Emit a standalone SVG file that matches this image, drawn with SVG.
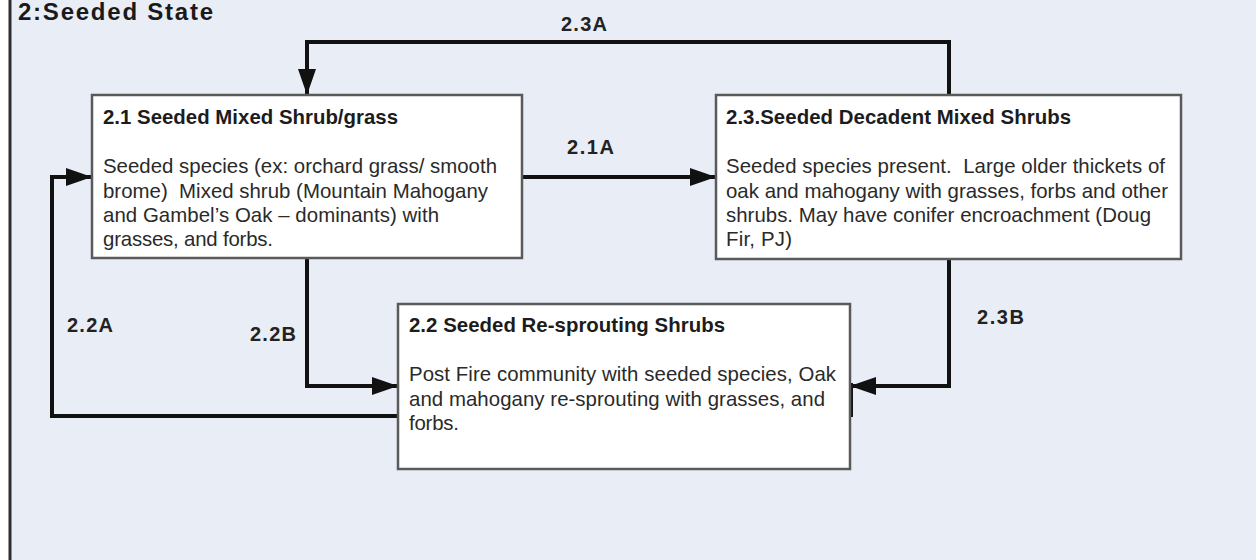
<svg xmlns="http://www.w3.org/2000/svg" width="1256" height="560" viewBox="0 0 1256 560">
  <style>
    .box { fill: #ffffff; stroke: #5a5a5a; stroke-width: 2.5; }
    .hdr { font-family: "Liberation Sans", Arial, sans-serif; font-weight: bold; font-size: 20.4px; fill: #1c1c1c; }
    .body { font-family: "Liberation Sans", Arial, sans-serif; font-size: 20.4px; fill: #2a2a2a; }
    .lbl { font-family: "Liberation Sans", Arial, sans-serif; font-weight: bold; font-size: 20px; fill: #222222; }
    .title { font-family: "Liberation Sans", Arial, sans-serif; font-weight: bold; font-size: 24px; fill: #1a1a1a; }
    .conn { fill: none; stroke: #111111; stroke-width: 4; stroke-linejoin: miter; }
  </style>
  <defs>
    <marker id="arrow" viewBox="0 0 26 18" refX="25" refY="9" markerWidth="26" markerHeight="18" markerUnits="userSpaceOnUse" orient="auto">
      <path d="M0,0 L26,9 L0,18 Z" fill="#111111"/>
    </marker>
  </defs>

  <rect x="0" y="0" width="1256" height="560" fill="#ffffff"/>
  <rect id="frame" x="10" y="-10" width="1260" height="600" fill="#e9edf5" stroke="#2e2e2e" stroke-width="3"/>
  <text class="title" x="18" y="20" textLength="195" lengthAdjust="spacing">2:Seeded State</text>

  <g id="connectors">
    <path class="conn" d="M949,95 V42 H307 V94" marker-end="url(#arrow)"/>
    <path class="conn" d="M522,177 H715" marker-end="url(#arrow)"/>
    <path class="conn" d="M307,258 V386 H397" marker-end="url(#arrow)"/>
    <path class="conn" d="M398,416 H52 V177 H91" marker-end="url(#arrow)"/>
    <path class="conn" d="M949,259 V386 H851" marker-end="url(#arrow)"/>
    <path class="conn" d="M851,383 V417" stroke-width="3"/>
    <text class="lbl" x="561" y="31" textLength="46" lengthAdjust="spacing">2.3A</text>
    <text class="lbl" x="567" y="154" textLength="47" lengthAdjust="spacing">2.1A</text>
    <text class="lbl" x="67" y="332" textLength="46" lengthAdjust="spacing">2.2A</text>
    <text class="lbl" x="250" y="341" textLength="46" lengthAdjust="spacing">2.2B</text>
    <text class="lbl" x="977" y="324" textLength="47" lengthAdjust="spacing">2.3B</text>
  </g>

  <g id="node-2-1">
    <rect class="box" x="92" y="95" width="430" height="163"/>
    <text class="hdr" x="103" y="124" textLength="295" lengthAdjust="spacing">2.1 Seeded Mixed Shrub/grass</text>
    <text class="body" x="103" y="173" textLength="394" lengthAdjust="spacing">Seeded species (ex: orchard grass/ smooth</text>
    <text class="body" x="103" y="198" textLength="385" lengthAdjust="spacing">brome)&#160; Mixed shrub (Mountain Mahogany</text>
    <text class="body" x="103" y="222" textLength="336" lengthAdjust="spacing">and Gambel’s Oak – dominants) with</text>
    <text class="body" x="103" y="246" textLength="170" lengthAdjust="spacing">grasses, and forbs.</text>
  </g>

  <g id="node-2-3">
    <rect class="box" x="716" y="95" width="465" height="164"/>
    <text class="hdr" x="726" y="124" textLength="345" lengthAdjust="spacing">2.3.Seeded Decadent Mixed Shrubs</text>
    <text class="body" x="726" y="173" textLength="439" lengthAdjust="spacing">Seeded species present.&#160; Large older thickets of</text>
    <text class="body" x="726" y="198" textLength="442" lengthAdjust="spacing">oak and mahogany with grasses, forbs and other</text>
    <text class="body" x="726" y="222" textLength="425" lengthAdjust="spacing">shrubs. May have conifer encroachment (Doug</text>
    <text class="body" x="726" y="246" textLength="66" lengthAdjust="spacing">Fir, PJ)</text>
  </g>

  <g id="node-2-2">
    <rect class="box" x="398" y="304" width="452" height="165"/>
    <text class="hdr" x="409" y="332" textLength="316" lengthAdjust="spacing">2.2 Seeded Re-sprouting Shrubs</text>
    <text class="body" x="409" y="381" textLength="427" lengthAdjust="spacing">Post Fire community with seeded species, Oak</text>
    <text class="body" x="409" y="406" textLength="416" lengthAdjust="spacing">and mahogany re-sprouting with grasses, and</text>
    <text class="body" x="409" y="430" textLength="50" lengthAdjust="spacing">forbs.</text>
  </g>
</svg>
